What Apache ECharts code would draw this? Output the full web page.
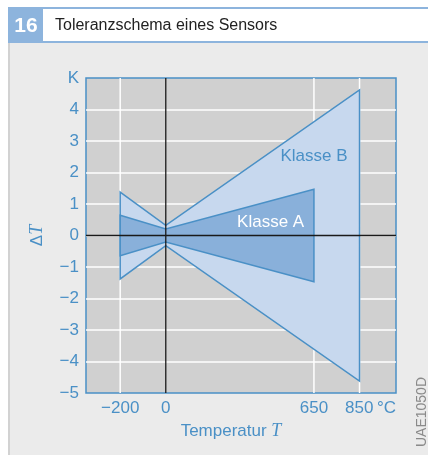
<!DOCTYPE html>
<html>
<head>
<meta charset="utf-8">
<script src="https://cdn.jsdelivr.net/npm/echarts@6/dist/echarts.min.js"></script>
<style>
html,body{margin:0;padding:0;background:#fff;}
#c{width:428px;height:455px;}
</style>
</head>
<body>
<div id="c"></div>
<script>
// Data
const tempB = [-200, 0, 850];
const tolB = [1.38, 0.32, 4.62];
const tempA = [-200, 0, 650];
const tolA = [0.64, 0.21, 1.47];
const xTicks = [-200, 0, 650, 850];
const gridX = [-200, 650, 850];
const yTickMin = -5, yTickMax = 5;
const xMin = -350, xMax = 1010;

const BLUE = '#4a90c6';
const FONT = 'Liberation Sans, Arial, sans-serif';

function polygonData(ts, tol) {
  const up = ts.map((t, i) => [t, tol[i]]);
  const lo = ts.map((t, i) => [t, -tol[i]]).reverse();
  return up.concat(lo);
}
const dataB = polygonData(tempB, tolB);
const dataA = polygonData(tempA, tolA);

function makeRender(points, fill, labelText, labelPos, labelColor) {
  return function (params, api) {
    if (params.dataIndex !== 0) return null;
    const pts = points.map(p => api.coord(p));
    const lp = api.coord(labelPos);
    return {
      type: 'group',
      children: [
        { type: 'polygon', shape: { points: pts },
          style: { fill: fill, stroke: BLUE, lineWidth: 1.5, lineJoin: 'miter' } },
        { type: 'text', x: lp[0], y: lp[1],
          style: { text: labelText, fill: labelColor, font: '17px ' + FONT,
                   align: 'center', verticalAlign: 'middle' } }
      ]
    };
  };
}

function vLineRender(color, width) {
  return function (params, api) {
    const x = api.value(0);
    const p1 = api.coord([x, yTickMin]);
    const p2 = api.coord([x, yTickMax]);
    return { type: 'line', shape: { x1: p1[0], y1: p1[1], x2: p2[0], y2: p2[1] },
             style: { stroke: color, lineWidth: width } };
  };
}

const chart = echarts.init(document.getElementById('c'), null, { renderer: 'canvas' });
chart.setOption({
  backgroundColor: '#ffffff',
  animation: false,
  graphic: [
    { type: 'rect', z: -100, shape: { x: 8, y: 43, width: 420, height: 412 }, style: { fill: '#ebebeb' } },
    { type: 'rect', z: -99, shape: { x: 8, y: 43, width: 2, height: 412 }, style: { fill: '#d2d2d2' } },
    { type: 'rect', z: -99, shape: { x: 8, y: 7, width: 420, height: 2 }, style: { fill: '#8db4dd' } },
    { type: 'rect', z: -99, shape: { x: 8, y: 41, width: 420, height: 2 }, style: { fill: '#8db4dd' } },
    { type: 'rect', z: -99, shape: { x: 8, y: 8, width: 35, height: 34 }, style: { fill: '#8db4dd' } },
    { type: 'text', z: -98, x: 26, y: 26, style: { text: '16', fill: '#fff', font: 'bold 21px ' + FONT, align: 'center', verticalAlign: 'middle' } },
    { type: 'text', z: -98, x: 55, y: 26, style: { text: 'Toleranzschema eines Sensors', fill: '#222', font: '16px ' + FONT, align: 'left', verticalAlign: 'middle' } },
    { type: 'text', z: -98, x: 422, y: 412, rotation: Math.PI / 2,
      style: { text: 'UAE1050D', fill: '#8a8a8a', font: '14px ' + FONT, align: 'center', verticalAlign: 'middle' } }
  ],
  grid: {
    left: 86, right: 32, top: 78, bottom: 62,
    show: true, backgroundColor: '#d0d0d0', borderColor: BLUE, borderWidth: 1.5
  },
  xAxis: {
    type: 'value', min: xMin, max: xMax,
    axisLine: { show: false, onZero: false },
    axisTick: { show: false },
    splitLine: { show: false },
    axisLabel: {
      customValues: xTicks,
      color: BLUE, fontFamily: FONT, fontSize: 17, margin: 7,
      formatter: function (v) {
        if (v === 850) return '{p|}{n|850}{u|\u2009°C}';
        return '{n|' + String(v).replace('-', '\u2212') + '}';
      },
      rich: {
        p: { width: 22 },
        n: { color: BLUE, fontFamily: FONT, fontSize: 17 },
        u: { color: BLUE, fontFamily: FONT, fontSize: 17 }
      }
    },
    name: '{n|Temperatur }{t|T}',
    nameLocation: 'middle', nameGap: 20,
    nameTextStyle: {
      padding: [0, 20, 0, 0],
      rich: {
        n: { color: BLUE, fontFamily: FONT, fontSize: 17 },
        t: { color: BLUE, fontFamily: 'Liberation Serif, serif', fontStyle: 'italic', fontSize: 18 }
      }
    }
  },
  yAxis: {
    type: 'value', min: yTickMin, max: yTickMax, interval: 1,
    axisLine: { show: false, onZero: false },
    axisTick: { show: false },
    splitLine: { show: true, showMinLine: false, showMaxLine: false, lineStyle: { color: '#ffffff', width: 1.5 } },
    axisLabel: {
      color: BLUE, fontFamily: FONT, fontSize: 17, margin: 7,
      formatter: function (v) { return v === yTickMax ? 'K' : String(v).replace('-', '\u2212'); }
    },
    name: '{d|\u0394}{t|T}',
    nameLocation: 'middle', nameGap: 40, nameRotate: 90,
    nameTextStyle: {
      rich: {
        d: { color: BLUE, fontFamily: FONT, fontSize: 17 },
        t: { color: BLUE, fontFamily: 'Liberation Serif, serif', fontStyle: 'italic', fontSize: 18 }
      }
    }
  },
  series: [
    {
      type: 'custom', z: 1, silent: true, clip: true,
      data: gridX.map(x => [x]),
      renderItem: vLineRender('#ffffff', 1.5)
    },
    {
      type: 'custom', z: 3, silent: true,
      data: dataB,
      renderItem: makeRender(dataB, '#c7d8ee', 'Klasse B', [650, 2.52], BLUE)
    },
    {
      type: 'custom', z: 4, silent: true,
      data: dataA,
      renderItem: makeRender(dataA, '#89b0da', 'Klasse A', [460, 0.42], '#ffffff')
    },
    {
      type: 'custom', z: 10, silent: true,
      data: [[0]],
      renderItem: function (params, api) {
        const v1 = api.coord([0, yTickMin]), v2 = api.coord([0, yTickMax]);
        const h1 = api.coord([xMin, 0]), h2 = api.coord([xMax, 0]);
        return { type: 'group', children: [
          { type: 'line', shape: { x1: v1[0], y1: v1[1], x2: v2[0], y2: v2[1] }, style: { stroke: '#1a1a1a', lineWidth: 1.3 } },
          { type: 'line', shape: { x1: h1[0], y1: h1[1], x2: h2[0], y2: h2[1] }, style: { stroke: '#1a1a1a', lineWidth: 1.3 } }
        ] };
      }
    }
  ]
});
</script>
</body>
</html>
